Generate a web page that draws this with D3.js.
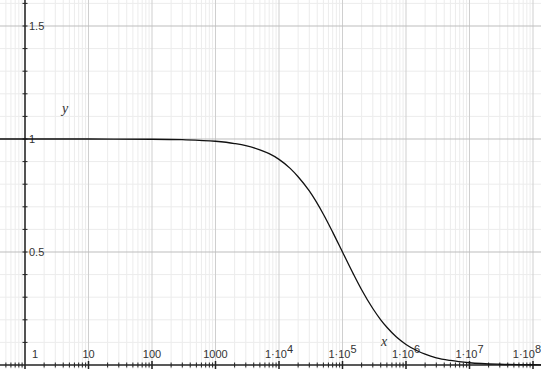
<!DOCTYPE html>
<html>
<head>
<meta charset="utf-8">
<script src="https://cdn.jsdelivr.net/npm/d3@7"></script>
<style>
  html, body { margin: 0; padding: 0; background: #fff; }
  svg { display: block; }
</style>
</head>
<body>
<div id="chart"></div>
<script>
// curve points (x on log scale)
const xValues = [0.4, 1, 10, 100, 300, 1000, 2000, 3000, 5000, 7000, 1e4, 1.5e4, 2e4, 3e4, 5e4, 7e4, 1e5, 1.5e5, 2e5, 3e5, 4e5, 5e5, 7e5, 1e6, 1.5e6, 2e6, 3e6, 5e6, 1e7, 3e7, 1e8, 1.4e8];
const yValues = [1, 1, 1, 0.999, 0.997, 0.99, 0.98, 0.971, 0.952, 0.935, 0.91, 0.87, 0.833, 0.77, 0.667, 0.588, 0.5, 0.4, 0.333, 0.25, 0.2, 0.167, 0.125, 0.091, 0.063, 0.048, 0.032, 0.02, 0.01, 0.0033, 0.001, 0.0007];

const decadeTicks = [1, 10, 100, 1000, 1e4, 1e5, 1e6, 1e7, 1e8];
const decadeLabels = ['1', '10', '100', '1000', '1·10|4', '1·10|5', '1·10|6', '1·10|7', '1·10|8'];
const yLabelTicks = [0.5, 1, 1.5];
const yLabels = ['0.5', '1', '1.5'];

const width = 541;
const height = 369;

const x = d3.scaleLog().domain([1, 1e8]).range([25, 533]);
const y = d3.scaleLinear().domain([0, 1]).range([365, 139]);

const svg = d3.select('#chart').append('svg')
  .attr('width', width)
  .attr('height', height);

// minor x values (2..9 per decade), and sub-1 values
const xMinor = [];
for (let e = -1; e <= 8; e++) {
  for (let m = 2; m <= 9; m++) {
    const v = m * Math.pow(10, e);
    if (x(v) >= 0 && x(v) <= width) xMinor.push(v);
  }
}
const yAll = d3.range(1, 17).map(i => i / 10);
const yMajor = [0.5, 1, 1.5];
const yMinor = yAll.filter(v => !yMajor.some(m => Math.abs(m - v) < 1e-9));

const grid = svg.append('g');
grid.selectAll('line.xm').data(xMinor).join('line')
  .attr('x1', d => x(d)).attr('x2', d => x(d))
  .attr('y1', 0).attr('y2', height)
  .attr('stroke', '#ececec').attr('stroke-width', 1);
grid.selectAll('line.ym').data(yMinor).join('line')
  .attr('x1', 0).attr('x2', width)
  .attr('y1', d => y(d)).attr('y2', d => y(d))
  .attr('stroke', '#ececec').attr('stroke-width', 1);
grid.selectAll('line.xM').data(decadeTicks).join('line')
  .attr('x1', d => x(d)).attr('x2', d => x(d))
  .attr('y1', 0).attr('y2', height)
  .attr('stroke', '#cfcfcf').attr('stroke-width', 1);
grid.selectAll('line.yM').data(yMajor).join('line')
  .attr('x1', 0).attr('x2', width)
  .attr('y1', d => y(d)).attr('y2', d => y(d))
  .attr('stroke', '#bdbdbd').attr('stroke-width', 1);

// axes
const axes = svg.append('g').attr('stroke', '#222');
axes.append('line').attr('x1', 0).attr('x2', width).attr('y1', y(0)).attr('y2', y(0)).attr('stroke-width', 1.5);
axes.append('line').attr('x1', x(1)).attr('x2', x(1)).attr('y1', 0).attr('y2', height).attr('stroke-width', 1.5);
axes.selectAll('line.xt').data(xMinor).join('line')
  .attr('x1', d => x(d)).attr('x2', d => x(d))
  .attr('y1', y(0) - 2.5).attr('y2', y(0) + 2.5).attr('stroke-width', 1);
axes.selectAll('line.xT').data(decadeTicks.slice(1)).join('line')
  .attr('x1', d => x(d)).attr('x2', d => x(d))
  .attr('y1', y(0) - 4).attr('y2', y(0) + 4).attr('stroke-width', 1.5);
axes.selectAll('line.yt').data(yAll).join('line')
  .attr('x1', x(1) - 2.5).attr('x2', x(1) + 2.5)
  .attr('y1', d => y(d)).attr('y2', d => y(d)).attr('stroke-width', 1);

// tick labels
const font = 'Liberation Sans, Arial, sans-serif';
const xl = svg.append('g').attr('font-family', font).attr('font-size', 11).attr('fill', '#333');
decadeTicks.forEach((v, i) => {
  const parts = decadeLabels[i].split('|');
  const last = i === decadeTicks.length - 1;
  const t = xl.append('text')
    .attr('x', i === 0 ? x(v) + 10 : (last ? width : x(v)))
    .attr('y', 358)
    .attr('text-anchor', last ? 'end' : 'middle');
  t.append('tspan').text(parts[0]);
  if (parts[1]) t.append('tspan').attr('dy', -5).text(parts[1]);
});
yLabelTicks.forEach((v, i) => {
  xl.append('text')
    .attr('x', x(1) + 4)
    .attr('y', y(v) + 4)
    .text(yLabels[i]);
});

// axis names
svg.append('text').attr('x', 62).attr('y', 113)
  .attr('font-family', 'Liberation Serif, Times New Roman, serif')
  .attr('font-style', 'italic').attr('font-size', 14).attr('fill', '#333').text('y');
svg.append('text').attr('x', 381).attr('y', 346)
  .attr('font-family', 'Liberation Serif, Times New Roman, serif')
  .attr('font-style', 'italic').attr('font-size', 14).attr('fill', '#333').text('x');

// curve
const pts = xValues.map((v, i) => [x(v), y(yValues[i])]);
svg.append('path')
  .attr('d', d3.line().curve(d3.curveMonotoneX)(pts))
  .attr('fill', 'none')
  .attr('stroke', '#111')
  .attr('stroke-width', 1.3);
</script>
</body>
</html>
